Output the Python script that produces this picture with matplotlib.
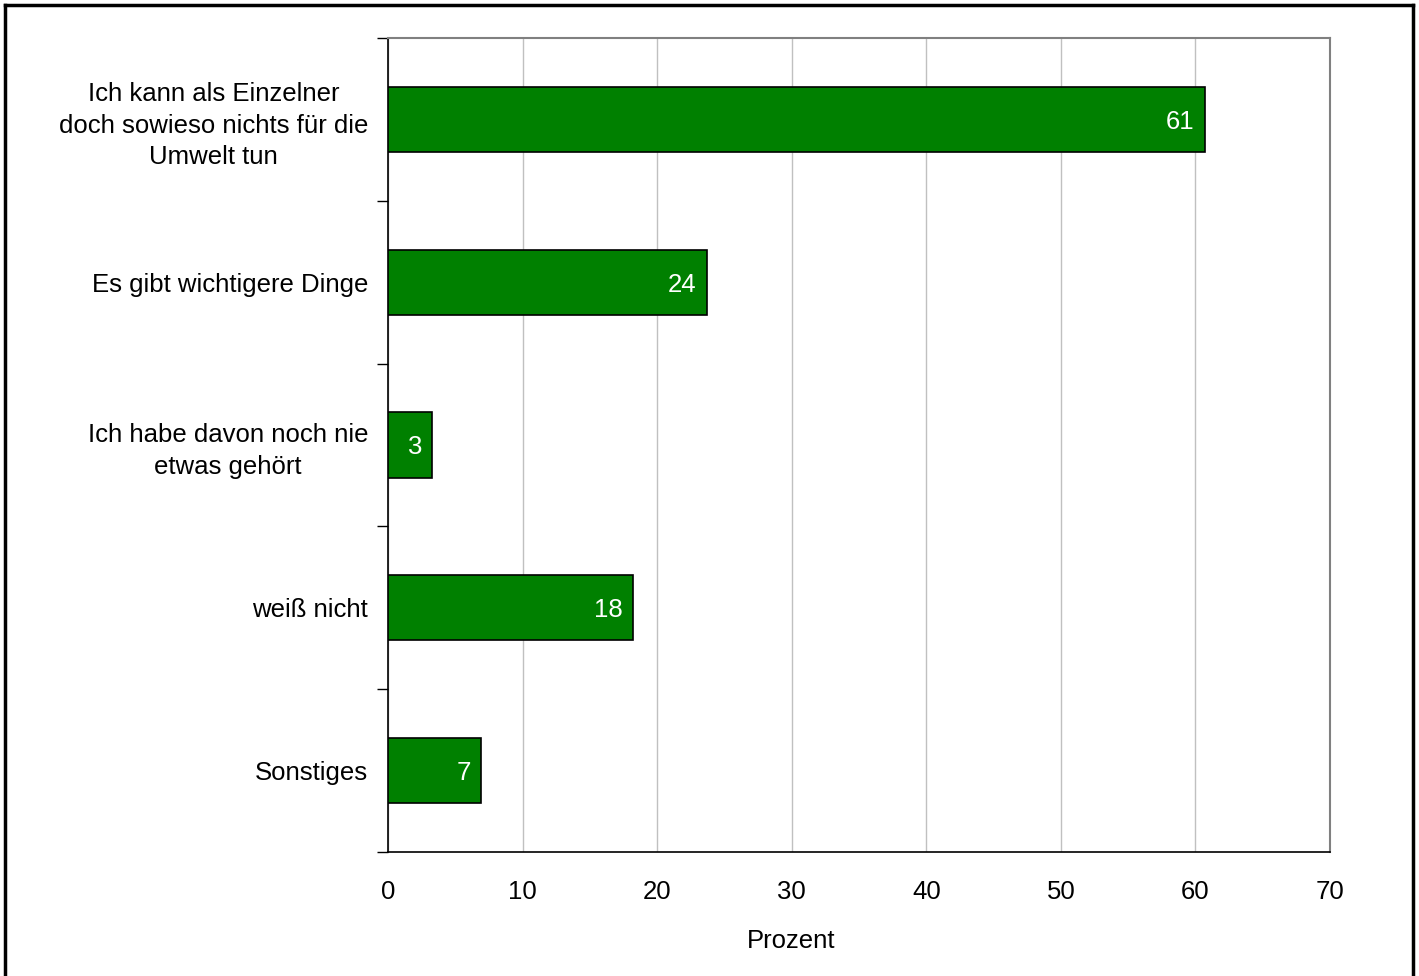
import matplotlib.pyplot as plt
from matplotlib.lines import Line2D

plt.rcParams['font.family'] = ['Liberation Sans', 'DejaVu Sans']

categories = ["Ich kann als Einzelner\ndoch sowieso nichts für die\nUmwelt tun",
              "Es gibt wichtigere Dinge",
              "Ich habe davon noch nie\netwas gehört",
              "weiß nicht",
              "Sonstiges"]
values = [60.7, 23.7, 3.3, 18.2, 6.9]
labels = ["61", "24", "3", "18", "7"]

fig = plt.figure(figsize=(14.19, 9.76), dpi=100)
ax = fig.add_axes([388 / 1419, 124 / 976, 942 / 1419, 814 / 976])

pos = list(range(len(categories)))
ax.barh(pos, values, height=0.4, color='#008000', edgecolor='black', linewidth=1.2, zorder=3)
for p, v, lab in zip(pos, values, labels):
    ax.text(v - 0.75, p + 0.015, lab, color='white', fontsize=18.5, ha='right', va='center', zorder=4)

ax.set_xlim(0, 70)
ax.set_ylim(len(categories) - 0.5, -0.5)
ax.set_xticks(range(0, 71, 10))
ax.tick_params(axis='x', length=0, labelsize=18.5, pad=20)
ax.set_xlabel("Prozent", fontsize=18.5)
ax.xaxis.set_label_coords(0.428, -0.095)

ax.set_yticks(pos)
ax.set_yticklabels(categories, fontsize=18.5, linespacing=1.38)
ax.tick_params(axis='y', length=0, pad=14.4)
for t in ax.get_yticklabels():
    t.set_multialignment('center')
    t.set_horizontalalignment('right')
# tick marks at category boundaries
ax.set_yticks([i - 0.5 for i in range(len(categories) + 1)], minor=True)
ax.tick_params(axis='y', which='minor', length=8, width=1, color='black')

ax.grid(axis='x', color='#c0c0c0', linewidth=1, zorder=0)
ax.spines['top'].set_color('#808080')
ax.spines['right'].set_color('#808080')
ax.spines['top'].set_linewidth(1.5)
ax.spines['right'].set_linewidth(1.5)
ax.spines['left'].set_linewidth(1.2)
ax.spines['bottom'].set_linewidth(1.2)

# outer frame (top, left, right)
fig.add_artist(Line2D([5 / 1419, 5 / 1419], [0, 1 - 5 / 976], color='black', linewidth=2.5))
fig.add_artist(Line2D([1413 / 1419, 1413 / 1419], [0, 1 - 5 / 976], color='black', linewidth=2.5))
fig.add_artist(Line2D([5 / 1419, 1413 / 1419], [1 - 5 / 976, 1 - 5 / 976], color='black', linewidth=2.5))

fig.savefig("out.png", dpi=100)
